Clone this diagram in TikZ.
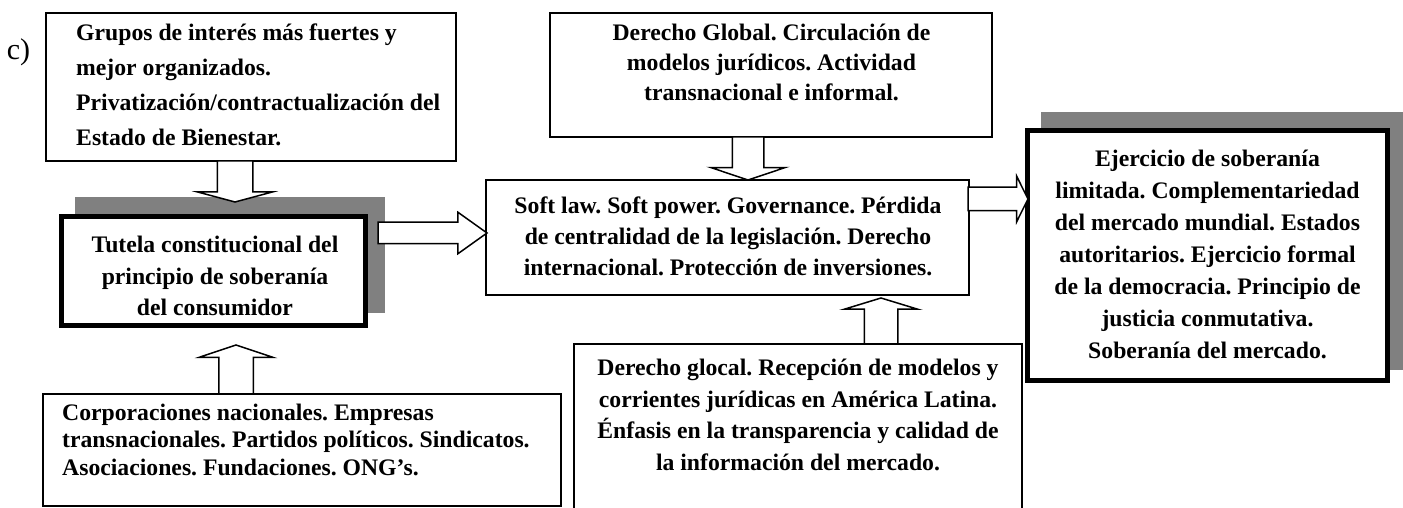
\documentclass[tikz,border=0pt]{standalone}
\usepackage{fontspec}
\setmainfont{Liberation Serif}
\usetikzlibrary{shapes.arrows,backgrounds}
\tikzset{
	caja/.style={draw, fill=white, line width=2pt, inner sep=0pt, outer sep=0pt},
	cajagruesa/.style={caja, line width=5pt},
	sombra/.style={fill=gray},
	texto/.style={inner sep=0pt, align=center, font=\bfseries\fontsize{23.7}{#1}\selectfont},
	flecha/.style={single arrow, draw, fill=white, line width=1.5pt, inner xsep=0pt, outer sep=0pt, anchor=tail},
}
\begin{document}
\frenchspacing
\begin{tikzpicture}[x=1pt,y=1pt]
			\useasboundingbox (0,0) rectangle (1403,508);
			
			\node[caja, minimum width=410, minimum height=148] (grupos) at (251,421) {};
			\node[caja, minimum width=442, minimum height=124] (global) at (771,433) {};
			\node[caja, minimum width=483, minimum height=115] (soft) at (727.5,270.5) {};
			\node[caja, minimum width=518, minimum height=112] (corp) at (302,58) {};
			\node[caja, minimum width=448, minimum height=176] (glocal) at (798,76) {};
			\node[cajagruesa, minimum width=304, minimum height=109] (tutela) at (213.5,237) {};
			\node[cajagruesa, minimum width=360, minimum height=250] (ejercicio) at (1207.5,252.5) {};
			
			\begin{scope}[on background layer]
				\fill[sombra] ([shift={(13.5,12.5)}]tutela.south west) rectangle ([shift={(19.5,19.5)}]tutela.north east);
				\fill[sombra] ([shift={(13.5,10.5)}]ejercicio.south west) rectangle ([shift={(18.5,18.5)}]ejercicio.north east);
			\end{scope}
			
			\node (etiqueta) at (18.5,456) {\fontsize{30}{36}\selectfont c)};
			\node[texto=35, align=left, anchor=west] (gruposTxt) at (76,423) {Grupos de interés más fuertes y\\mejor organizados.\\Privatización/contractualización del\\Estado de Bienestar.};
			\node[texto=30] (globalTxt) at (771.5,446) {Derecho Global. Circulación de\\modelos jurídicos. Actividad\\transnacional e informal.};
			\node[texto=31] (softTxt) at (728,272) {Soft law. Soft power. Governance. Pérdida\\de centralidad de la legislación. Derecho\\internacional. Protección de inversiones.};
			\node[texto=31.5] (tutelaTxt) at (215,232) {Tutela constitucional del\\principio de soberanía\\del consumidor};
			\node[texto=32] (ejercicioTxt) at (1207.5,254) {Ejercicio de soberanía\\limitada. Complementariedad\\del mercado mundial. Estados\\autoritarios. Ejercicio formal\\de la democracia. Principio de\\justicia conmutativa.\\Soberanía del mercado.};
			\node[texto=31.5] (glocalTxt) at (798,93) {Derecho glocal. Recepción de modelos y\\corrientes jurídicas en América Latina.\\Énfasis en la transparencia y calidad de\\la información del mercado.};
			\node[texto=27.5, align=left, anchor=west] (corpTxt) at (62,68.5) {Corporaciones nacionales. Empresas\\transnacionales. Partidos políticos. Sindicatos.\\Asociaciones. Fundaciones. ONG’s.};
			
			\node[flecha, rotate=-90, inner ysep=17pt, single arrow head extend=20pt, single arrow tip angle=150, minimum height=41pt] (fGrupos) at ([xshift=-16pt]grupos.south) {};
			\node[flecha, rotate=90, inner ysep=16.5pt, single arrow head extend=19.5pt, single arrow tip angle=143, minimum height=49pt] (fCorp) at ([xshift=-66pt]corp.north) {};
			\node[flecha, rotate=-90, inner ysep=15pt, single arrow head extend=21.5pt, single arrow tip angle=143, minimum height=43pt] (fGlobal) at ([xshift=-23pt]global.south) {};
			\node[flecha, rotate=90, inner ysep=16pt, single arrow head extend=20pt, single arrow tip angle=146, minimum height=46pt] (fGlocal) at ([xshift=83pt]glocal.north) {};
			\node[flecha, inner ysep=10pt, single arrow head extend=10pt, single arrow tip angle=71, minimum height=109pt] (fTutela) at ([shift={(12.5pt,38pt)}]tutela.east) {};
			\node[flecha, inner ysep=11pt, single arrow head extend=11pt, single arrow tip angle=127, minimum height=60pt] (fSoft) at ([shift={(-1pt,38.5pt)}]soft.east) {};
		\end{tikzpicture}
\end{document}
